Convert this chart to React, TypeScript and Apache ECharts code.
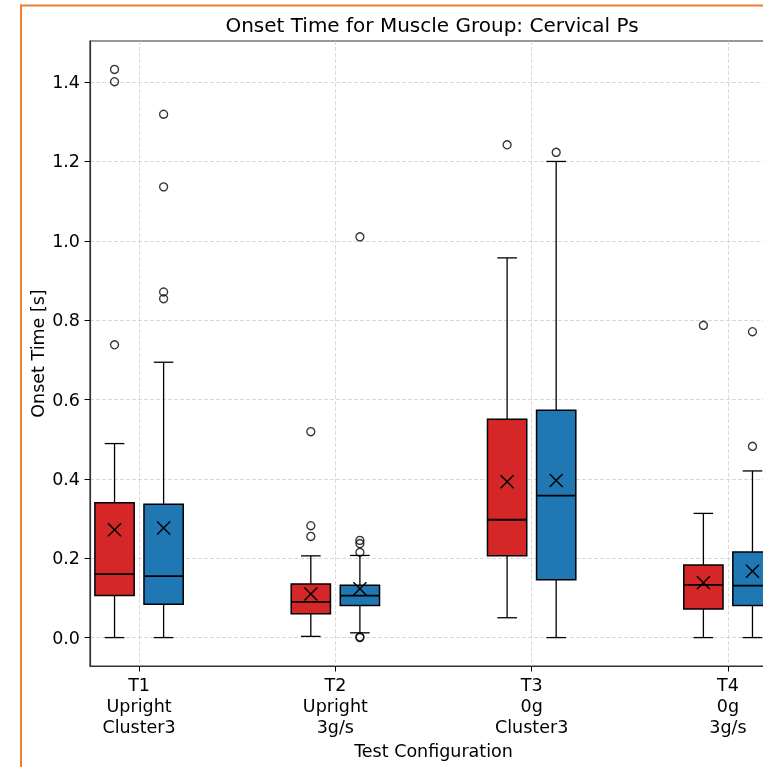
import React, { useEffect, useRef } from 'react';
import * as echarts from 'echarts';

const categories = ['T1\nUpright\nCluster3', 'T2\nUpright\n3g/s', 'T3\n0g\nCluster3', 'T4\n0g\n3g/s'];
const positions = [1, 2, 3, 4];
const yTicks = [0, 0.2, 0.4, 0.6, 0.8, 1.0, 1.2, 1.4];

// per category: [low whisker, Q1, median, Q3, high whisker, mean]
const redBoxes = [
  [0.0, 0.106, 0.160, 0.340, 0.489, 0.272],
  [0.003, 0.060, 0.090, 0.135, 0.206, 0.110],
  [0.050, 0.206, 0.297, 0.550, 0.957, 0.393],
  [0.0, 0.072, 0.133, 0.183, 0.313, 0.138],
];
const blueBoxes = [
  [0.0, 0.084, 0.155, 0.336, 0.694, 0.276],
  [0.012, 0.081, 0.106, 0.132, 0.207, 0.123],
  [0.0, 0.146, 0.358, 0.573, 1.200, 0.396],
  [0.0, 0.081, 0.131, 0.216, 0.420, 0.167],
];
const redFliers = [
  [1.432, 1.401, 0.738],
  [0.519, 0.282, 0.255],
  [1.242],
  [0.787],
];
const blueFliers = [
  [1.319, 1.136, 0.871, 0.854],
  [1.010, 0.245, 0.237, 0.215, 0.002, 0.0],
  [1.223],
  [0.771, 0.482],
];

const RED = '#d62728';
const BLUE = '#1f77b4';
const OFFSET = 0.125;
const BOX_W = 0.2;
const FONT = 'DejaVu Sans';

function makeRenderItem(color: string) {
  return (params: any, api: any) => {
    const x = api.value(0);
    const pLow = api.coord([x, api.value(1)]);
    const pQ1 = api.coord([x, api.value(2)]);
    const pMed = api.coord([x, api.value(3)]);
    const pQ3 = api.coord([x, api.value(4)]);
    const pHigh = api.coord([x, api.value(5)]);
    const pMean = api.coord([x, api.value(6)]);
    const halfW = api.size([BOX_W, 0])[0] / 2;
    const capHalf = halfW / 2;
    const cx = pLow[0];
    const ls = { stroke: '#000', lineWidth: 1.3 };
    const m = 6.5;
    return {
      type: 'group',
      children: [
        { type: 'line', shape: { x1: cx, y1: pLow[1], x2: cx, y2: pQ1[1] }, style: ls },
        { type: 'line', shape: { x1: cx, y1: pQ3[1], x2: cx, y2: pHigh[1] }, style: ls },
        { type: 'line', shape: { x1: cx - capHalf, y1: pLow[1], x2: cx + capHalf, y2: pLow[1] }, style: ls },
        { type: 'line', shape: { x1: cx - capHalf, y1: pHigh[1], x2: cx + capHalf, y2: pHigh[1] }, style: ls },
        {
          type: 'rect',
          shape: { x: cx - halfW, y: pQ3[1], width: halfW * 2, height: pQ1[1] - pQ3[1] },
          style: { fill: color, stroke: '#000', lineWidth: 1.5 },
        },
        { type: 'line', shape: { x1: cx - halfW, y1: pMed[1], x2: cx + halfW, y2: pMed[1] }, style: { stroke: '#000', lineWidth: 1.8 } },
        { type: 'line', shape: { x1: cx - m, y1: pMean[1] - m, x2: cx + m, y2: pMean[1] + m }, style: { stroke: '#000', lineWidth: 1.5 } },
        { type: 'line', shape: { x1: cx - m, y1: pMean[1] + m, x2: cx + m, y2: pMean[1] - m }, style: { stroke: '#000', lineWidth: 1.5 } },
      ],
    };
  };
}

export default function App() {
  const ref = useRef<HTMLDivElement>(null);
  useEffect(() => {
    const chart = echarts.init(ref.current!, null, { renderer: 'svg' });
    const redData = positions.map((p, i) => [p - OFFSET, ...redBoxes[i]]);
    const blueData = positions.map((p, i) => [p + OFFSET, ...blueBoxes[i]]);
    const redFlierData = redFliers.flatMap((arr, i) => arr.map((v) => [positions[i] - OFFSET, v]));
    const blueFlierData = blueFliers.flatMap((arr, i) => arr.map((v) => [positions[i] + OFFSET, v]));
    const flierStyle = { color: 'rgba(0,0,0,0)', borderColor: '#000', borderWidth: 1.35 };
    const gridLine = { show: true, lineStyle: { color: '#cfcfcf', width: 0.8, type: [4, 2] as any } };

    chart.setOption({
      animation: false,
      textStyle: { fontFamily: FONT },
      graphic: [
        { type: 'line', shape: { x1: 21, y1: 4.5, x2: 21, y2: 767 }, style: { stroke: '#ef7e2e', lineWidth: 2 } },
        { type: 'line', shape: { x1: 20, y1: 5.5, x2: 777, y2: 5.5 }, style: { stroke: '#ef7e2e', lineWidth: 2 } },
        {
          type: 'text',
          x: 432,
          y: 25,
          style: {
            text: 'Onset Time for Muscle Group: Cervical Ps',
            fontFamily: FONT,
            fontSize: 20,
            fill: '#000',
            textAlign: 'center',
            textVerticalAlign: 'middle',
          },
        },
      ],
      grid: {
        left: 90,
        top: 41,
        right: 0,
        bottom: 101,
        show: true,
        borderColor: '#333',
        borderWidth: 1.2,
        backgroundColor: 'transparent',
      },
      xAxis: {
        type: 'value',
        min: 0.75,
        max: 4.25,
        name: 'Test Configuration',
        nameLocation: 'middle',
        nameGap: 74,
        nameTextStyle: { fontFamily: FONT, fontSize: 17.5, color: '#000' },
        axisLine: { show: true, onZero: false, lineStyle: { color: '#333', width: 1.2 } },
        axisTick: { show: true, length: 5.5, customValues: positions, lineStyle: { color: '#000' } },
        axisLabel: {
          customValues: positions,
          margin: 8,
          fontFamily: FONT,
          fontSize: 17.5,
          lineHeight: 21,
          color: '#000',
          formatter: (v: number) => categories[Math.round(v) - 1] ?? '',
        },
        splitLine: gridLine,
      },
      yAxis: {
        type: 'value',
        min: -0.0716,
        max: 1.5036,
        name: 'Onset Time [s]',
        nameLocation: 'middle',
        nameGap: 43,
        nameMoveOverlap: false,
        nameTextStyle: { fontFamily: FONT, fontSize: 17.5, color: '#000' },
        axisLine: { show: true, onZero: false, lineStyle: { color: '#333', width: 1.2 } },
        axisTick: { show: true, length: 5.5, customValues: yTicks, lineStyle: { color: '#000' } },
        axisLabel: {
          customValues: yTicks,
          margin: 10,
          fontFamily: FONT,
          fontSize: 17.5,
          color: '#000',
          formatter: (v: number) => v.toFixed(1),
        },
        splitLine: gridLine,
      },
      series: [
        { type: 'custom', name: 'red', renderItem: makeRenderItem(RED), data: redData, encode: { x: 0, y: [1, 2, 3, 4, 5, 6] } },
        { type: 'custom', name: 'blue', renderItem: makeRenderItem(BLUE), data: blueData, encode: { x: 0, y: [1, 2, 3, 4, 5, 6] } },
        { type: 'scatter', symbol: 'circle', symbolSize: 8, itemStyle: flierStyle, data: redFlierData, z: 3 },
        { type: 'scatter', symbol: 'circle', symbolSize: 8, itemStyle: flierStyle, data: blueFlierData, z: 3 },
      ],
    });
    return () => chart.dispose();
  }, []);
  return <div ref={ref} style={{ position: 'fixed', left: 0, top: 0, width: 777, height: 767 }} />;
}
